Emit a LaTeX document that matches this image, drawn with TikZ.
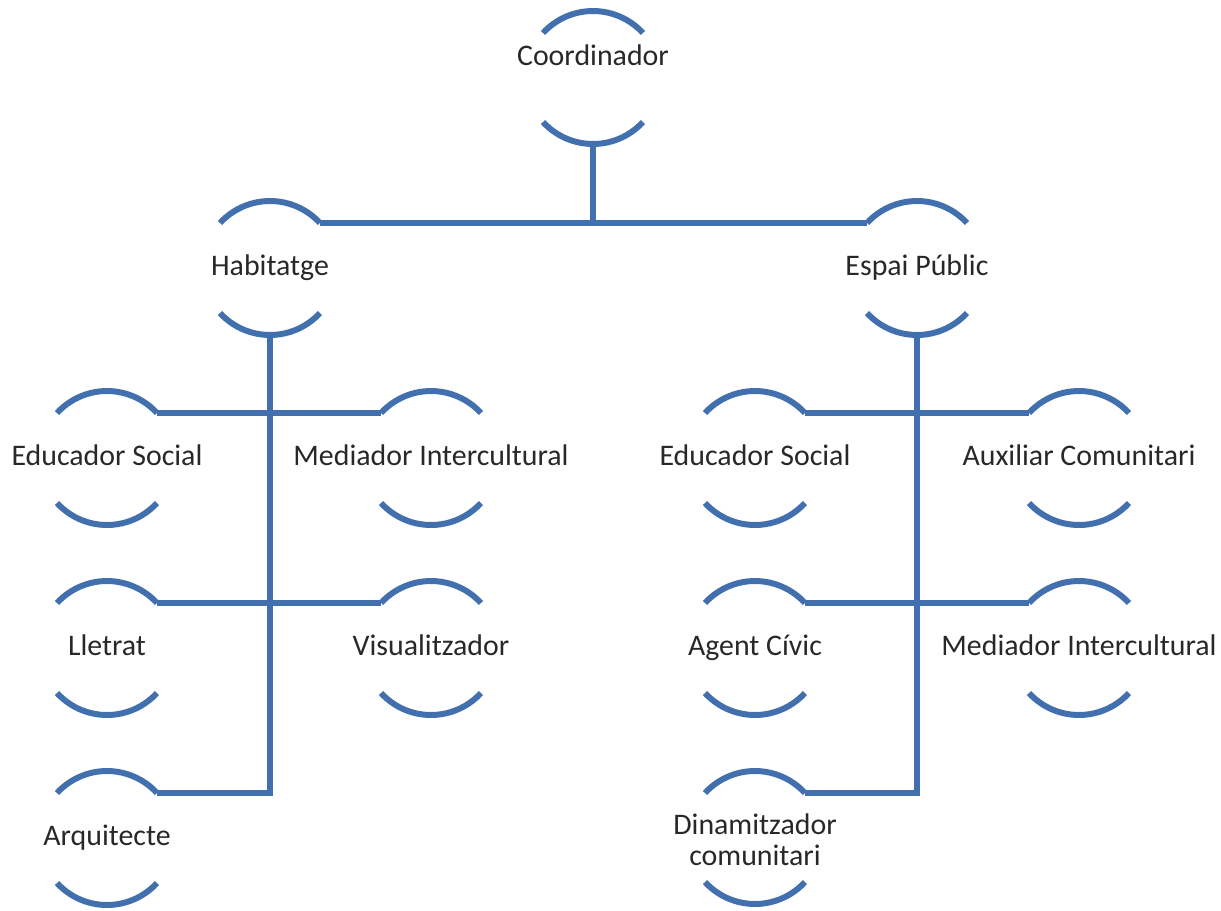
\documentclass[tikz,border=0pt]{standalone}
\usepackage{fontspec}
\setmainfont{Carlito}
\usetikzlibrary{calc}
\definecolor{orgblue}{RGB}{66,112,174}
\definecolor{orgtext}{RGB}{40,40,40}

\begin{document}
\begin{tikzpicture}[x=0.02cm, y=-0.02cm,
    member/.style={inner sep=0pt, align=center, text=orgtext,
                   text height=12pt, text depth=4pt,
                   font=\fontsize{17}{17.5}\selectfont},
    link/.style={draw=orgblue, line width=3.4pt},
    bracket/.style={draw=orgblue, line width=3.4pt}]

    \useasboundingbox (0,0) rectangle (1221,910);

    % Top
    \node[member] (coord) at (593,58) {Coordinador};

    % Second level
    \node[member] (hab) at (270,268) {Habitatge};
    \node[member] (esp) at (917,268) {Espai Públic};

    % Habitatge team
    \node[member] (edu1) at (107,458) {Educador Social};
    \node[member] (med1) at (431,458) {Mediador Intercultural};
    \node[member] (llet) at (107,648) {Lletrat};
    \node[member] (vis)  at (431,648) {Visualitzador};
    \node[member] (arq)  at (107,838) {Arquitecte};

    % Espai Public team
    \node[member] (edu2) at (755,458) {Educador Social};
    \node[member] (aux)  at (1079,458) {Auxiliar Comunitari};
    \node[member] (agent) at (755,648) {Agent Cívic};
    \node[member] (med2) at (1079,648) {Mediador Intercultural};
    \node[member, text height=, text depth=] (dinam) at (755,840) {Dinamitzador\\comunitari};

    % Arcs above and below each name
    \foreach \n/\up/\dn in {coord/25/64, hab/45/45, esp/45/45,
        edu1/45/45, med1/45/45, llet/45/45, vis/45/45, arq/45/45,
        edu2/45/45, aux/45/45, agent/45/45, med2/45/45, dinam/47/42} {
        \coordinate (\n-tl) at ([shift={(-50,-\up)}]\n.center);
        \coordinate (\n-tr) at ([shift={(50,-\up)}]\n.center);
        \coordinate (\n-bl) at ([shift={(-50,\dn)}]\n.center);
        \coordinate (\n-bm) at ([shift={(0,\dn+22)}]\n.center);
        \draw[bracket] (\n-tl) arc[start angle=137.5, end angle=42.5, radius=1.3564cm];
        \draw[bracket] (\n-bl) arc[start angle=222.5, end angle=317.5, radius=1.3564cm];
    }

    % Connectors
    \draw[link] (coord-bm) -- (coord-bm |- hab-tr);
    \draw[link] (hab-tr) -- (esp-tl);

    \draw[link] (hab-bm) |- (arq-tr);
    \draw[link] (edu1-tr) -- (med1-tl);
    \draw[link] (llet-tr) -- (vis-tl);

    \draw[link] (esp-bm) |- (dinam-tr);
    \draw[link] (edu2-tr) -- (aux-tl);
    \draw[link] (agent-tr) -- (med2-tl);
\end{tikzpicture}
\end{document}
